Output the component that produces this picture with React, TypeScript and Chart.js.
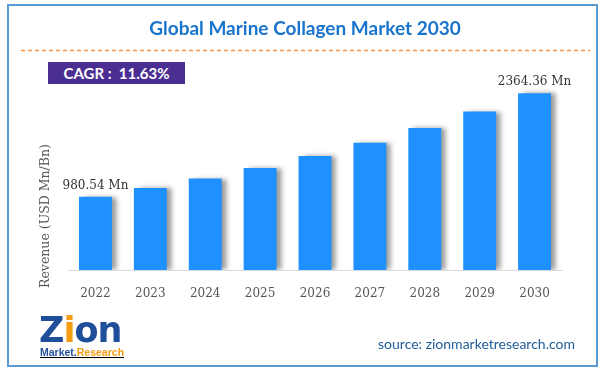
import React, { useEffect, useRef } from "react";
import { Chart, registerables } from "chart.js";

Chart.register(...registerables);

const years = ["2022", "2023", "2024", "2025", "2026", "2027", "2028", "2029", "2030"];
const revenue = [980.54, 1095, 1222, 1364, 1523, 1700, 1897, 2118, 2364.36];
const labeledPoints = ["980.54 Mn", "", "", "", "", "", "", "", "2364.36 Mn"];
const titleText = "Global Marine Collagen Market 2030";
const cagrText = "CAGR :  11.63%";
const yTitle = "Revenue (USD Mn/Bn)";
const sourceText = "source: zionmarketresearch.com";

const shadowPlugin = {
  id: "barShadow",
  beforeDatasetsDraw(chart: any) {
    const ctx = chart.ctx;
    ctx.save();
    ctx.shadowColor = "rgba(0,0,0,0.4)";
    ctx.shadowBlur = 5;
    ctx.shadowOffsetX = 5;
    ctx.shadowOffsetY = 0;
  },
  afterDatasetsDraw(chart: any) {
    chart.ctx.restore();
  },
};

const labelPlugin = {
  id: "endLabels",
  afterDraw(chart: any) {
    const ctx = chart.ctx;
    const meta = chart.getDatasetMeta(0);
    ctx.save();
    ctx.font = "12px 'DejaVu Serif'";
    ctx.fillStyle = "#333333";
    ctx.textAlign = "center";
    ctx.textBaseline = "bottom";
    meta.data.forEach((bar: any, i: number) => {
      const t = labeledPoints[i];
      if (t) ctx.fillText(t, bar.x, bar.y - 5);
    });
    ctx.strokeStyle = "#F79646";
    ctx.lineWidth = 1.5;
    ctx.setLineDash([4, 3]);
    ctx.beginPath();
    ctx.moveTo(21, 50.5);
    ctx.lineTo(590, 50.5);
    ctx.stroke();
    ctx.restore();
  },
};

export default function App() {
  const ref = useRef<HTMLCanvasElement | null>(null);
  useEffect(() => {
    document.body.style.margin = "0";
    const chart = new Chart(ref.current as HTMLCanvasElement, {
      type: "bar",
      data: {
        labels: years,
        datasets: [
          {
            data: revenue,
            backgroundColor: "#1E90FF",
            borderWidth: 0,
            barPercentage: 0.6,
            categoryPercentage: 1,
          },
        ],
      },
      options: {
        responsive: false,
        animation: false,
        layout: { padding: { left: 68, right: 44, top: 83, bottom: 77 } },
        plugins: { legend: { display: false }, tooltip: { enabled: false }, title: { display: false } },
        scales: {
          x: {
            grid: { display: false },
            border: { display: true, color: "#d9d9d9", width: 1 },
            ticks: { color: "#555555", font: { family: "'DejaVu Serif'", size: 12 }, padding: 9 },
            afterFit: (s: any) => {
              s.height = 30;
            },
          },
          y: { display: false, min: 0, max: 2500 },
        },
      },
      plugins: [shadowPlugin, labelPlugin],
    });
    return () => chart.destroy();
  }, []);

  return (
    <div style={{ position: "fixed", left: 0, top: 0, width: 606, height: 377, background: "#fff", overflow: "hidden" }}>
      <div
        style={{
          position: "absolute",
          left: 7,
          top: 4,
          width: 591,
          height: 363,
          boxSizing: "border-box",
          border: "2px solid #5B9BD5",
        }}
      />
      <canvas ref={ref} width={606} height={377} style={{ position: "absolute", left: 0, top: 0 }} />
      <div
        style={{
          position: "absolute",
          left: 2,
          width: 606,
          top: 16,
          textAlign: "center",
          fontFamily: "Lato, sans-serif",
          fontWeight: 700,
          fontSize: 19,
          color: "#1874CD",
          lineHeight: "24px",
        }}
      >
        {titleText}
      </div>
      <div
        style={{
          position: "absolute",
          left: 48,
          top: 62,
          width: 137,
          height: 22,
          background: "#4B2E91",
          color: "#fff",
          fontFamily: "Lato, sans-serif",
          fontWeight: 700,
          fontSize: 15,
          lineHeight: "22px",
          textAlign: "center",
          whiteSpace: "pre",
        }}
      >
        {cagrText}
      </div>
      <div
        style={{
          position: "absolute",
          left: 45 - 80,
          top: 216 - 8,
          width: 160,
          height: 16,
          lineHeight: "16px",
          textAlign: "center",
          transform: "rotate(-90deg)",
          fontFamily: "'DejaVu Serif', serif",
          fontSize: 12.5,
          color: "#555555",
          whiteSpace: "nowrap",
        }}
      >
        {yTitle}
      </div>
      <div
        style={{
          position: "absolute",
          left: 335,
          width: 240,
          top: 335,
          textAlign: "right",
          fontFamily: "Lato, sans-serif",
          fontSize: 14,
          color: "#1F5C99",
          lineHeight: "18px",
          whiteSpace: "nowrap",
        }}
      >
        {sourceText}
      </div>
      <div
        style={{
          position: "absolute",
          left: 39,
          top: 312,
          width: 100,
          fontFamily: "'DejaVu Sans', sans-serif",
          fontWeight: 700,
          fontSize: 35,
          color: "#1F4E9A",
          lineHeight: "36px",
          letterSpacing: -1,
        }}
      >
        <span style={{ color: "#1F4E9A" }}>Z</span>
        <span style={{ color: "#F39C12" }}>i</span>
        <span>on</span>
      </div>
      <div
        style={{
          position: "absolute",
          left: 40,
          top: 346,
          fontFamily: "'Liberation Sans', sans-serif",
          fontWeight: 700,
          fontSize: 10.5,
          lineHeight: "12px",
          textDecoration: "underline",
          whiteSpace: "nowrap",
        }}
      >
        <span style={{ color: "#1F4E9A" }}>Market.</span>
        <span style={{ color: "#F39C12" }}>Research</span>
      </div>
    </div>
  );
}
